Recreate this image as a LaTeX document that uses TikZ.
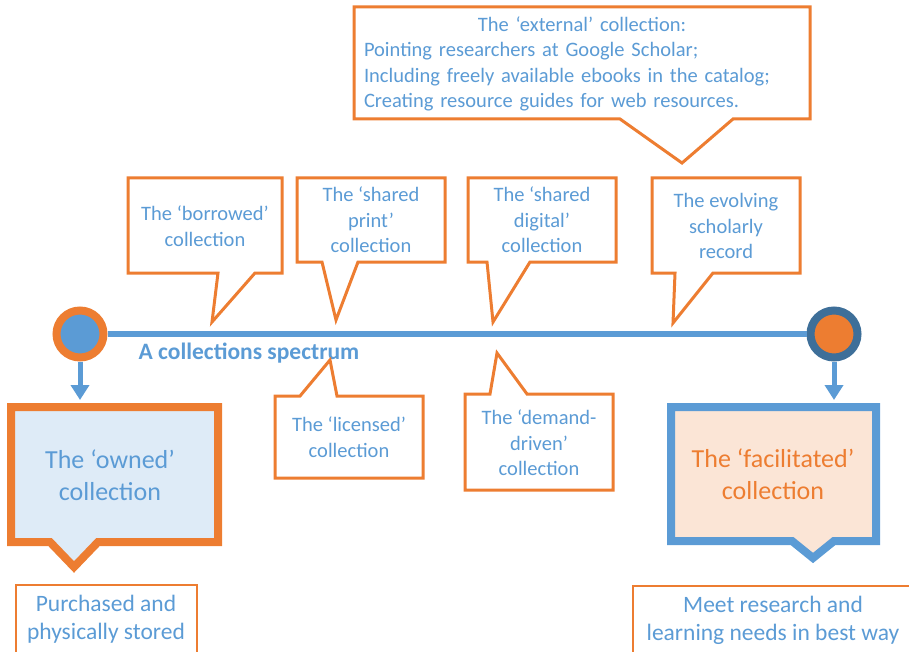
\documentclass[tikz,border=0pt]{standalone}
\usepackage{fontspec}
\setmainfont{Carlito}
\usetikzlibrary{arrows.meta}
\definecolor{sblue}{HTML}{5B9BD5}
\definecolor{sorange}{HTML}{ED7D31}
\definecolor{sdark}{HTML}{3E6F99}
\definecolor{paleblue}{HTML}{DEEBF7}
\definecolor{palepeach}{HTML}{FBE5D6}

\begin{document}
\begin{tikzpicture}[
x=1pt, y=-1pt,
bubble/.style={
  draw=sorange,
  fill=white,
  line width=3pt,
  line join=miter
  },
bigbox/.style={
  line width=8pt,
  line join=miter
  },
thinbox/.style={
  draw=sorange,
  line width=1.2pt
  },
dot/.style={
  circle,
  inner sep=0pt,
  minimum size=47pt,
  line width=8pt
  },
spine/.style={
  draw=sblue,
  line width=6pt
  },
drop/.style={
  draw=sblue,
  line width=5pt,
  -{Triangle[width=18pt,length=15pt]}
  },
ctext/.style={
  text=sblue,
  align=center,
  font=\fontsize{20.5}{25.5}\selectfont
  },
bigtext/.style={
  align=center,
  font=\fontsize{26}{31.5}\selectfont
  },
foot/.style={
  text=sblue,
  align=center,
  font=\fontsize{23.5}{28}\selectfont
  }
]
\useasboundingbox (0,0) rectangle (909,652);

% the spectrum
\node[dot, draw=sorange, fill=sblue] (owned end) at (80,334) {};
\node[dot, draw=sdark, fill=sorange] (facil end) at (834,334) {};
\draw[spine] (owned end) -- (facil end);
\node[text=sblue, font=\bfseries\fontsize{23.5}{28}\selectfont] (spectrum) at (249,353) {A collections spectrum};

% callouts: left/top/right/pointer edge/pointer base/tip
\foreach \l/\t/\r/\b/\pa/\pb/\tx/\ty in {
  128/178/282/273/218/255/212/322,
  297/178/445/262/322/358/336/320,
  468/178/616/262/487/530/493/322,
  652/178/800/273/675/713/673/323,
  354/7/810/119/620/733/682/163,
  275/478/423/396/300/337/330/360,
  465/490/613/394/490/527/497/353}
  \draw[bubble] (\l,\t) -- (\r,\t) -- (\r,\b) -- (\pb,\b) -- (\tx,\ty)
    -- (\pa,\b) -- (\l,\b) -- cycle;

\node[ctext] (borrowed) at (205,226) {The ‘borrowed’\\collection};
\node[ctext] (shared print) at (371,220) {The ‘shared\\print’\\collection};
\node[ctext] (shared digital) at (542,220) {The ‘shared\\digital’\\collection};
\node[ctext] (evolving) at (726,226) {The evolving\\scholarly\\record};
\node[ctext] (licensed) at (349,437) {The ‘licensed’\\collection};
\node[ctext] (demand) at (539,443) {The ‘demand-\\driven’\\collection};
\node[ctext, align=left, text width=436pt, inner sep=0pt] (external) at (582,64)
  {\makebox[436pt]{The ‘external’ collection:}\\
   Pointing researchers at Google Scholar;\\
   Including freely available ebooks in the catalog;\\
   Creating resource guides for web resources.};

% end boxes
\draw[bigbox, draw=sorange, fill=paleblue] (11,407) -- (218,407) -- (218,542)
  -- (98,542) -- (74,567) -- (50,542) -- (11,542) -- cycle;
\draw[bigbox, draw=sblue, fill=palepeach] (671,407) -- (876,407) -- (876,541)
  -- (834,541) -- (813,558) -- (792,541) -- (671,541) -- cycle;
\node[bigtext, text=sblue] (owned) at (110,475) {The ‘owned’\\collection};
\node[bigtext, text=sorange] (facilitated) at (773,474) {The ‘facilitated’\\collection};

\coordinate (owned top) at (80,400);
\coordinate (facil top) at (834,400);
\draw[drop] (owned end) -- (owned top);
\draw[drop] (facil end) -- (facil top);

% bottom notes
\draw[thinbox] (16,660) |- (197,585) -- (197,660);
\draw[thinbox] (633,660) |- (920,586);
\node[foot] (purchased) at (106,619) {Purchased and\\physically stored};
\node[foot] (needs) at (773,620) {Meet research and\\learning needs in best way};
\end{tikzpicture}
\end{document}
